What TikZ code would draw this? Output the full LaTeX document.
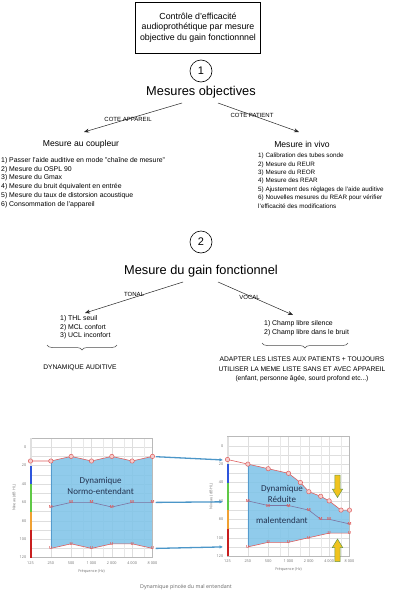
\documentclass[tikz,border=0pt]{standalone}
\usepackage{fontspec}
\setmainfont{Liberation Sans}
\newfontfamily\osans{Open Sans}
\newfontfamily\csans{Carlito}
\usetikzlibrary{arrows.meta,decorations.pathreplacing}
\definecolor{chblue}{RGB}{125,195,232}
\definecolor{chedge}{RGB}{85,155,205}
\definecolor{gridc}{RGB}{222,222,222}
\definecolor{framec}{RGB}{185,185,185}
\definecolor{tc}{RGB}{222,95,95}
\definecolor{tfill}{RGB}{245,205,205}
\definecolor{mc}{RGB}{125,115,160}
\definecolor{conn}{RGB}{75,150,200}
\definecolor{yarrow}{RGB}{240,195,30}
\definecolor{garrow}{RGB}{105,150,70}
\definecolor{dtext}{RGB}{35,50,80}
\definecolor{bbar}{RGB}{45,85,220}
\definecolor{gbar}{RGB}{95,200,70}
\definecolor{obar}{RGB}{240,160,50}
\definecolor{rbar}{RGB}{200,30,30}
\newcommand\audioframe[1]{%
  \draw[framec, line width=0.5pt] (0,-10) rectangle (6,120);
  \draw[line width=2pt, gray!25] (0,-10) -- (0,20);
  \draw[line width=2pt, bbar] (0,20) -- (0,40);
  \draw[line width=2pt, gbar] (0,40) -- (0,70);
  \draw[line width=2pt, obar] (0,70) -- (0,90);
  \draw[line width=2pt, rbar] (0,90) -- (0,120);
  \foreach \d [count=\i] in {0,20,...,120} \node[tick, anchor=east] (#1yt\i) at (-0.2,\d) {\d};
  \foreach \k/\f [count=\i] in {0/125,1/250,2/500,3/1 000,4/2 000,5/4 000,6/8 000} \node[tick] (#1xt\i) at (\k,125.5) {\f};
  \node[tick] (#1xa) at (3,135) {Fréquence (Hz)};
  \node[tick, rotate=90] (#1ya) at (-0.8,55) {Niveau (dB HL)};
}
\newcommand\audiogrid{%
  \foreach \d in {0,10,...,110} \draw[gridc, line width=0.4pt] (0,\d) -- (6,\d);
  \foreach \k in {1,...,5} \draw[gridc, line width=0.4pt] (\k,-10) -- (\k,120);
  \foreach \k in {2.585,3.585,4.585,5.585} \draw[gridc!70, line width=0.3pt] (\k,-10) -- (\k,120);
}
\begin{document}
\begin{tikzpicture}[x=1pt,y=-1pt,
  lbl/.style={font=\fontsize{6}{7}\selectfont, inner sep=0},
  lst/.style={font=\fontsize{6.9}{8.8}\selectfont, align=left, inner sep=0, anchor=north west},
  lsts/.style={font=\fontsize{6.3}{8.4}\selectfont, align=left, inner sep=0, anchor=north west},
  ctr/.style={font=\fontsize{6.7}{9.3}\selectfont, align=center, inner sep=0},
  ttl/.style={font=\fontsize{12.8}{15}\selectfont, inner sep=0},
  sub/.style={font=\fontsize{8.6}{10}\selectfont, inner sep=0},
  num/.style={circle, draw, minimum size=22pt, inner sep=0, font=\fontsize{11}{13}\selectfont, line width=0.6pt},
  arr/.style={-{Stealth[length=5pt,width=4pt]}, line width=0.5pt, draw=black!85},
  brc/.style={decorate, decoration={brace, amplitude=5pt, mirror}, draw=black!70, line width=0.5pt},
  tick/.style={font=\osans\fontsize{3.8}{4.5}\selectfont, text=black!55, inner sep=0},
  mk/.style={font=\osans\bfseries\fontsize{4.2}{5}\selectfont, text=tc, inner sep=0},
  dyn/.style={font=\csans\fontsize{9}{10.8}\selectfont, text=dtext, align=center, inner sep=0},
  carr/.style={-{Latex[length=3.5pt,width=3.5pt]}, line width=1.3pt, draw=conn},
  yar/.style={fill=yarrow, draw=garrow, line width=0.5pt},
]
\fill[white] (0,0) rectangle (401,600);
\useasboundingbox (0,0) rectangle (401,600);

% ---------- header ----------
\node[draw, line width=0.6pt, minimum width=125pt, minimum height=51pt, align=center,
      font=\fontsize{8.8}{10.5}\selectfont, inner sep=0] (hdr) at (198,27.5)
  {Contrôle d'efficacité\\audioprothétique par mesure\\objective du gain fonctionnnel};

% ---------- section 1 ----------
\node[num] (c1) at (201,71) {1};
\node[ttl] (t1) at (201,92) {Mesures objectives};
\coordinate (a1ls) at (182,103);
\coordinate (a1le) at (84,132);
\coordinate (a1rs) at (218,103);
\coordinate (a1re) at (299,132);
\draw[arr] (a1ls) -- node[lbl, pos=0.55] (lapp) {COTE APPAREIL} (a1le);
\draw[arr] (a1rs) -- node[lbl, pos=0.42] (lpat) {COTE PATIENT} (a1re);
\node[sub] (s1l) at (81,144) {Mesure au coupleur};
\node[sub] (s1r) at (302,144) {Mesure in vivo};
\node[lst] (l1l) at (1,157) {1) Passer l'aide auditive en mode "chaîne de mesure"\\2) Mesure du OSPL 90\\3) Mesure du Gmax\\4) Mesure du bruit équivalent en entrée\\5) Mesure du taux de distorsion acoustique\\6) Consommation de l'appareil};
\node[lsts] (l1r) at (258,153) {1) Calibration des tubes sonde\\2) Mesure du REUR\\3) Mesure du REOR\\4) Mesure des REAR\\5) Ajustement des réglages de l'aide auditive\\6) Nouvelles mesures du REAR pour vérifier\\l'efficacité des modifications};

% ---------- section 2 ----------
\node[num] (c2) at (201,242) {2};
\node[ttl] (t2) at (201,271) {Mesure du gain fonctionnel};
\coordinate (a2ls) at (183,282);
\coordinate (a2le) at (85,313);
\coordinate (a2rs) at (218,282);
\coordinate (a2re) at (293,315);
\draw[arr] (a2ls) -- node[lbl, pos=0.5, yshift=3pt] (lton) {TONAL} (a2le);
\draw[arr] (a2rs) -- node[lbl, pos=0.42, yshift=-1.5pt] (lvoc) {VOCAL} (a2re);
\node[lst] (l2l) at (60,315) {1) THL seuil\\2) MCL confort\\3) UCL inconfort};
\node[lst] (l2r) at (264,320) {1) Champ libre silence\\2) Champ libre dans le bruit};
\coordinate (b2la) at (47,345);
\coordinate (b2lb) at (117,345);
\coordinate (b2ra) at (262,343);
\coordinate (b2rb) at (348,343);
\draw[brc] (b2la) -- (b2lb);
\draw[brc] (b2ra) -- (b2rb);
\node[ctr] (dyn) at (80,368) {DYNAMIQUE AUDITIVE};
\node[ctr] (adapt) at (302,369.5) {ADAPTER LES LISTES AUX PATIENTS + TOUJOURS\\UTILISER LA MEME LISTE SANS ET AVEC APPAREIL\\(enfant, personne âgée, sourd profond etc...)};

% ---------- left audiogram ----------
\begin{scope}[shift={(30.5,447.2)}, x=20.33pt, y=-0.92pt]
  \audiogrid
  \fill[chblue, fill opacity=0.85] (1,15) -- (2,10) -- (3,15) -- (4,10) -- (5,15) -- (6,10) -- (6,110) -- (5,105) -- (4,105) -- (3,110) -- (2,105) -- (1,110) -- cycle;
  \draw[chedge, line width=0.5pt] (1,15) -- (1,110);
  \draw[chedge, line width=0.5pt] (6,10) -- (6,110);
  \audioframe{L}
  \draw[tc, line width=0.6pt] (0,15) -- (1,15) -- (2,10) -- (3,15) -- (4,10) -- (5,15) -- (6,10);
  \draw[mc, line width=0.6pt] (1,65) -- (2,60) -- (3,60) -- (4,65) -- (5,60) -- (6,60);
  \draw[tc, line width=0.6pt] (1,110) -- (2,105) -- (3,110) -- (4,105) -- (5,105) -- (6,110);
  \foreach \p in {(0,15),(1,15),(2,10),(3,15),(4,10),(5,15),(6,10)} \draw[tc, fill=tfill, line width=0.5pt] \p circle (2.2pt);
  \foreach \k/\d [count=\i] in {1/65,2/60,3/60,4/65,5/60,6/60} \node[mk] (LM\i) at (\k,\d) {M};
  \foreach \k/\d [count=\i] in {1/110,2/105,3/110,4/105,5/105,6/110} \node[mk] (LU\i) at (\k,\d) {U};
  \node[dyn] (Ldyn) at (3.45,42) {Dynamique\\Normo-entendant};
  \coordinate (LT) at (6.16,10.3);
  \coordinate (LMc) at (6.16,60);
  \coordinate (LUc) at (6.16,110);
\end{scope}

% ---------- right audiogram ----------
\begin{scope}[shift={(227.5,445.7)}, x=20.33pt, y=-0.92pt]
  \audiogrid
  \fill[chblue, fill opacity=0.85] (1,20) -- (2,25) -- (3,30) -- (3.585,40) -- (4,50) -- (4.585,55) -- (5,60) -- (5.585,70) -- (6,70) -- (6,95) -- (5,95) -- (4,100) -- (3,105) -- (2,105) -- (1,110) -- cycle;
  \draw[chedge, line width=0.5pt] (1,20) -- (1,110);
  \draw[chedge, line width=0.5pt] (6,70) -- (6,95);
  \audioframe{R}
  \draw[tc, line width=0.6pt] (0,15) -- (1,20) -- (2,25) -- (3,30) -- (3.585,40) -- (4,50) -- (4.585,55) -- (5,60) -- (5.585,70) -- (6,70);
  \draw[mc, line width=0.6pt] (1,60) -- (2,65) -- (3,65) -- (4,70) -- (4.585,80) -- (5,80) -- (6,85);
  \draw[tc, line width=0.6pt] (1,110) -- (2,105) -- (3,105) -- (4,100) -- (5,95) -- (6,95);
  \foreach \p in {(0,15),(1,20),(2,25),(3,30),(3.585,40),(4,50),(4.585,55),(5,60),(5.585,70),(6,70)} \draw[tc, fill=tfill, line width=0.5pt] \p circle (2.2pt);
  \foreach \k/\d [count=\i] in {1/60,2/65,3/65,4/70,4.585/80,5/80,6/85} \node[mk] (RM\i) at (\k,\d) {M};
  \foreach \k/\d [count=\i] in {1/110,2/105,3/105,4/100,5/95,6/95} \node[mk] (RU\i) at (\k,\d) {U};
  \node[dyn] (Rdyn) at (2.68,64) {Dynamique\\Réduite\\[11pt]malentendant};
  \coordinate (RT) at (-0.22,15.5);
  \coordinate (RMc) at (-0.22,61);
  \coordinate (RUc) at (-0.22,110);
\end{scope}

% yellow arrows
\draw[yar] (334.8,475) -- (340.2,475) -- (340.2,489) -- (342.7,489) -- (337.5,497.5) -- (332.3,489) -- (334.8,489) -- cycle;
\draw[yar] (334.8,561.5) -- (340.2,561.5) -- (340.2,547.5) -- (342.7,547.5) -- (337.5,539) -- (332.3,547.5) -- (334.8,547.5) -- cycle;

% connecting arrows
\draw[carr] (LT) -- (RT);
\draw[carr] (LMc) -- (RMc);
\draw[carr] (LUc) -- (RUc);

\node[font=\osans\fontsize{5.3}{6}\selectfont, text=black!60, inner sep=0] (cap) at (186,587) {Dynamique pincée du mal entendant};
\end{tikzpicture}
\end{document}
